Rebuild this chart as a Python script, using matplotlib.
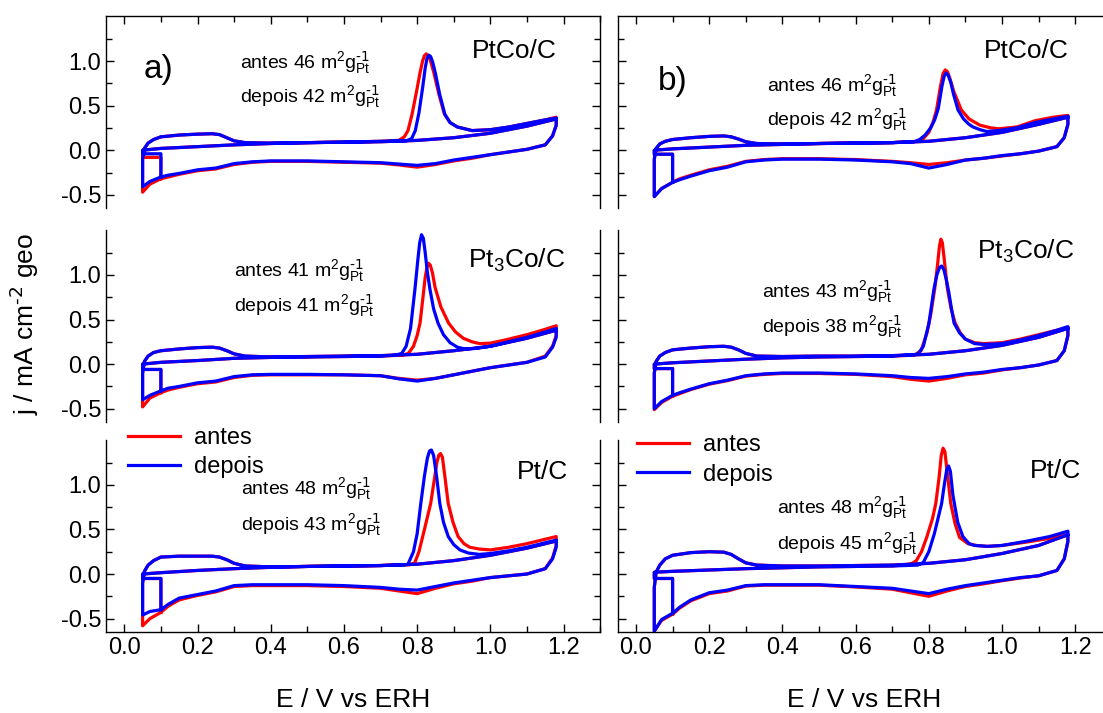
import matplotlib
matplotlib.use('Agg')
import matplotlib.pyplot as plt
from matplotlib.ticker import MultipleLocator, FixedLocator

plt.rcParams['font.family'] = ['Liberation Sans', 'DejaVu Sans']
plt.rcParams['mathtext.default'] = 'regular'
plt.rcParams['axes.unicode_minus'] = False

# ---- potentials (V vs ERH) shared by all sweeps ----
co_E_low = [0.05, 0.10, 0.20, 0.30, 0.40, 0.50, 0.60, 0.70]
cat_E = [1.18, 1.18, 1.17, 1.15, 1.10, 1.05, 1.00, 0.95, 0.90, 0.85, 0.80, 0.75, 0.70,
         0.60, 0.50, 0.40, 0.35, 0.30, 0.25, 0.20, 0.15, 0.12, 0.10, 0.07, 0.05]
h_E = [0.05, 0.055, 0.065, 0.08, 0.10, 0.15, 0.20, 0.24, 0.26, 0.28, 0.30, 0.33, 0.40, 0.50,
       0.60, 0.70, 0.80, 0.90, 1.00, 1.10, 1.18]

# ---- a) PtCo/C ----
ptco_a_co_low = [0.00, 0.02, 0.04, 0.06, 0.075, 0.085, 0.09, 0.10]
ptco_a_peak_E_antes = [0.75, 0.765, 0.775, 0.786, 0.798, 0.808, 0.815, 0.82, 0.825, 0.83, 0.836,
                       0.845, 0.86, 0.874, 0.89, 0.91, 0.95, 1.00, 1.05, 1.10, 1.15, 1.18]
ptco_a_peak_j_antes = [0.11, 0.15, 0.22, 0.40, 0.65, 0.87, 1.00, 1.06, 1.08, 1.06, 1.01,
                       0.88, 0.62, 0.41, 0.31, 0.26, 0.22, 0.23, 0.26, 0.30, 0.34, 0.37]
ptco_a_peak_E_depois = [0.77, 0.785, 0.795, 0.805, 0.815, 0.822, 0.827, 0.832, 0.837, 0.843, 0.85,
                        0.862, 0.876, 0.89, 0.91, 0.95, 1.00, 1.05, 1.10, 1.15, 1.18]
ptco_a_peak_j_depois = [0.105, 0.13, 0.22, 0.42, 0.70, 0.92, 1.03, 1.065, 1.05, 0.98, 0.86,
                        0.62, 0.40, 0.31, 0.26, 0.22, 0.23, 0.26, 0.30, 0.34, 0.36]
ptco_a_cat_antes = [0.37, 0.28, 0.16, 0.06, 0.01, -0.02, -0.05, -0.09, -0.12, -0.16, -0.19, -0.165, -0.145,
                    -0.135, -0.125, -0.125, -0.135, -0.16, -0.21, -0.23, -0.27, -0.30, -0.32, -0.38, -0.47]
ptco_a_cat_depois = [0.36, 0.28, 0.16, 0.06, 0.01, -0.02, -0.05, -0.08, -0.11, -0.15, -0.17, -0.155, -0.14,
                     -0.13, -0.12, -0.12, -0.13, -0.15, -0.20, -0.22, -0.26, -0.28, -0.30, -0.35, -0.41]
ptco_a_h = [-0.10, 0.02, 0.08, 0.12, 0.15, 0.17, 0.18, 0.185, 0.175, 0.14, 0.105, 0.085, 0.08, 0.085,
            0.09, 0.095, 0.11, 0.14, 0.19, 0.27, 0.35]
ptco_a_step = [-0.08, -0.04]

# ---- a) Pt3Co/C ----
pt3co_a_co_low = [0.00, 0.02, 0.04, 0.065, 0.075, 0.08, 0.085, 0.09]
pt3co_a_peak_E_antes = [0.76, 0.776, 0.79, 0.80, 0.808, 0.816, 0.822, 0.827, 0.831, 0.836, 0.842,
                        0.849, 0.865, 0.886, 0.905, 0.926, 0.95, 0.97, 1.00, 1.04, 1.10, 1.15, 1.18]
pt3co_a_peak_j_antes = [0.10, 0.12, 0.20, 0.32, 0.46, 0.75, 0.97, 1.09, 1.13, 1.11, 1.02,
                        0.86, 0.64, 0.46, 0.36, 0.29, 0.25, 0.23, 0.235, 0.27, 0.33, 0.39, 0.43]
pt3co_a_peak_E_depois = [0.74, 0.758, 0.77, 0.782, 0.794, 0.802, 0.807, 0.812, 0.817, 0.822, 0.828,
                         0.835, 0.845, 0.857, 0.872, 0.89, 0.91, 0.93, 0.96, 1.00, 1.05, 1.10, 1.15, 1.18]
pt3co_a_peak_j_depois = [0.10, 0.12, 0.20, 0.40, 0.84, 1.17, 1.36, 1.45, 1.41, 1.25, 1.03,
                         0.84, 0.62, 0.46, 0.33, 0.24, 0.19, 0.17, 0.175, 0.20, 0.25, 0.30, 0.36, 0.40]
pt3co_a_cat_antes = [0.43, 0.32, 0.20, 0.09, 0.02, -0.01, -0.04, -0.08, -0.12, -0.16, -0.18, -0.16, -0.13,
                     -0.12, -0.12, -0.12, -0.125, -0.15, -0.20, -0.22, -0.26, -0.29, -0.32, -0.38, -0.48]
pt3co_a_cat_depois = [0.40, 0.30, 0.19, 0.08, 0.02, -0.01, -0.04, -0.08, -0.12, -0.16, -0.19, -0.165, -0.13,
                      -0.12, -0.115, -0.115, -0.12, -0.14, -0.19, -0.21, -0.25, -0.27, -0.30, -0.35, -0.40]
pt3co_a_h = [-0.10, 0.03, 0.09, 0.13, 0.15, 0.17, 0.185, 0.19, 0.18, 0.15, 0.115, 0.09, 0.08, 0.085,
             0.09, 0.095, 0.11, 0.15, 0.20, 0.29, 0.38]
pt3co_a_step = [-0.06, -0.06]

# ---- a) Pt/C ----
pt_a_co_low = [0.00, 0.015, 0.04, 0.06, 0.075, 0.085, 0.09, 0.095]
pt_a_peak_E_antes = [0.78, 0.793, 0.805, 0.82, 0.837, 0.847, 0.854, 0.859, 0.864, 0.869, 0.875,
                     0.885, 0.898, 0.912, 0.928, 0.944, 0.97, 1.00, 1.05, 1.10, 1.15, 1.18]
pt_a_peak_j_antes = [0.105, 0.12, 0.25, 0.50, 0.79, 1.06, 1.25, 1.33, 1.35, 1.31, 1.12,
                     0.79, 0.58, 0.42, 0.34, 0.30, 0.28, 0.27, 0.30, 0.34, 0.39, 0.42]
pt_a_peak_E_depois = [0.76, 0.775, 0.79, 0.80, 0.81, 0.82, 0.828, 0.834, 0.839, 0.845, 0.853,
                      0.862, 0.872, 0.885, 0.90, 0.917, 0.94, 0.97, 1.00, 1.05, 1.10, 1.15, 1.18]
pt_a_peak_j_depois = [0.10, 0.11, 0.25, 0.45, 0.79, 1.10, 1.30, 1.38, 1.39, 1.33, 1.10,
                      0.79, 0.58, 0.42, 0.33, 0.27, 0.235, 0.22, 0.23, 0.26, 0.30, 0.35, 0.38]
pt_a_cat_antes = [0.42, 0.32, 0.18, 0.06, 0.00, -0.02, -0.04, -0.08, -0.11, -0.16, -0.22, -0.19, -0.16,
                  -0.14, -0.13, -0.13, -0.13, -0.14, -0.20, -0.24, -0.29, -0.36, -0.43, -0.50, -0.58]
pt_a_cat_depois = [0.38, 0.30, 0.17, 0.06, 0.00, -0.02, -0.04, -0.07, -0.10, -0.14, -0.18, -0.17, -0.15,
                   -0.13, -0.12, -0.12, -0.12, -0.13, -0.19, -0.23, -0.27, -0.34, -0.40, -0.42, -0.46]
pt_a_h = [-0.10, 0.03, 0.10, 0.15, 0.19, 0.20, 0.20, 0.20, 0.19, 0.16, 0.12, 0.09, 0.08, 0.085,
          0.09, 0.095, 0.11, 0.15, 0.21, 0.29, 0.37]
pt_a_step = [-0.05, -0.05]

# ---- b) PtCo/C ----
ptco_b_co_low = [0.00, 0.015, 0.035, 0.055, 0.065, 0.075, 0.08, 0.085]
ptco_b_peak_E_antes = [0.77, 0.785, 0.80, 0.812, 0.821, 0.832, 0.839, 0.845, 0.851, 0.858, 0.868,
                       0.889, 0.91, 0.94, 0.97, 0.99, 1.04, 1.09, 1.14, 1.18]
ptco_b_peak_j_antes = [0.10, 0.13, 0.20, 0.32, 0.45, 0.72, 0.86, 0.90, 0.88, 0.80, 0.66,
                       0.45, 0.35, 0.28, 0.25, 0.24, 0.26, 0.33, 0.37, 0.39]
ptco_b_peak_E_depois = [0.76, 0.775, 0.79, 0.805, 0.816, 0.826, 0.836, 0.842, 0.847, 0.853, 0.86,
                        0.868, 0.88, 0.895, 0.91, 0.921, 0.94, 0.958, 0.99, 1.04, 1.09, 1.14, 1.18]
ptco_b_peak_j_depois = [0.095, 0.12, 0.17, 0.25, 0.34, 0.47, 0.72, 0.83, 0.865, 0.84, 0.76,
                        0.62, 0.45, 0.35, 0.29, 0.26, 0.23, 0.21, 0.22, 0.25, 0.31, 0.35, 0.38]
ptco_b_cat_antes = [0.39, 0.29, 0.14, 0.04, -0.01, -0.04, -0.065, -0.09, -0.11, -0.14, -0.16, -0.14, -0.125,
                    -0.105, -0.095, -0.095, -0.105, -0.125, -0.18, -0.22, -0.28, -0.32, -0.36, -0.43, -0.52]
ptco_b_cat_depois = [0.38, 0.29, 0.14, 0.04, -0.01, -0.04, -0.06, -0.09, -0.11, -0.16, -0.20, -0.15, -0.13,
                     -0.11, -0.10, -0.10, -0.11, -0.13, -0.19, -0.23, -0.29, -0.33, -0.36, -0.43, -0.52]
ptco_b_h = [-0.10, 0.02, 0.07, 0.10, 0.12, 0.14, 0.155, 0.16, 0.15, 0.125, 0.095, 0.075, 0.07, 0.075,
            0.08, 0.085, 0.10, 0.14, 0.20, 0.29, 0.37]
ptco_b_step = [-0.045, -0.045]

# ---- b) Pt3Co/C ----
pt3co_b_co_low = [0.00, 0.015, 0.035, 0.055, 0.07, 0.08, 0.085, 0.09]
pt3co_b_peak_E_antes = [0.76, 0.779, 0.795, 0.805, 0.816, 0.824, 0.829, 0.833, 0.837, 0.842, 0.851,
                        0.861, 0.872, 0.886, 0.90, 0.925, 0.95, 1.00, 1.05, 1.10, 1.15, 1.18]
pt3co_b_peak_j_antes = [0.10, 0.15, 0.35, 0.55, 0.84, 1.12, 1.32, 1.40, 1.36, 1.18, 0.84,
                        0.62, 0.46, 0.35, 0.28, 0.24, 0.23, 0.24, 0.28, 0.33, 0.38, 0.41]
pt3co_b_peak_E_depois = [0.77, 0.785, 0.80, 0.814, 0.822, 0.829, 0.835, 0.841, 0.847, 0.854, 0.862,
                         0.869, 0.884, 0.90, 0.925, 0.95, 1.00, 1.05, 1.10, 1.15, 1.18]
pt3co_b_peak_j_depois = [0.11, 0.20, 0.45, 0.84, 1.00, 1.08, 1.10, 1.06, 0.96, 0.82, 0.62,
                         0.46, 0.35, 0.28, 0.23, 0.22, 0.23, 0.27, 0.32, 0.38, 0.42]
pt3co_b_cat_antes = [0.41, 0.32, 0.15, 0.04, -0.01, -0.04, -0.065, -0.10, -0.12, -0.16, -0.19, -0.17, -0.14,
                     -0.115, -0.105, -0.105, -0.115, -0.135, -0.185, -0.225, -0.285, -0.33, -0.36, -0.43, -0.51]
pt3co_b_cat_depois = [0.42, 0.32, 0.15, 0.04, -0.01, -0.04, -0.06, -0.09, -0.11, -0.14, -0.16, -0.15, -0.13,
                      -0.11, -0.10, -0.10, -0.11, -0.13, -0.18, -0.22, -0.28, -0.32, -0.35, -0.42, -0.50]
pt3co_b_h = [-0.10, 0.03, 0.09, 0.13, 0.16, 0.18, 0.195, 0.20, 0.19, 0.16, 0.12, 0.09, 0.085, 0.09,
             0.09, 0.095, 0.11, 0.15, 0.21, 0.30, 0.40]
pt3co_b_step = [-0.05, -0.05]

# ---- b) Pt/C ----
pt_b_co_low = [0.02, 0.03, 0.045, 0.06, 0.07, 0.08, 0.085, 0.09]
pt_b_peak_E_antes = [0.75, 0.766, 0.78, 0.795, 0.81, 0.819, 0.828, 0.834, 0.839, 0.844, 0.85,
                     0.86, 0.872, 0.884, 0.907, 0.93, 0.96, 1.00, 1.07, 1.13, 1.18]
pt_b_peak_j_antes = [0.11, 0.15, 0.25, 0.42, 0.62, 0.79, 1.08, 1.33, 1.41, 1.37, 1.15,
                     0.79, 0.56, 0.41, 0.34, 0.32, 0.31, 0.32, 0.36, 0.40, 0.44]
pt_b_peak_E_depois = [0.77, 0.785, 0.80, 0.815, 0.835, 0.843, 0.849, 0.854, 0.859, 0.866, 0.879,
                      0.893, 0.91, 0.925, 0.96, 1.00, 1.07, 1.13, 1.18]
pt_b_peak_j_depois = [0.10, 0.13, 0.25, 0.45, 0.79, 1.02, 1.17, 1.21, 1.15, 0.88, 0.58,
                      0.42, 0.34, 0.32, 0.31, 0.32, 0.37, 0.42, 0.48]
pt_b_cat_antes = [0.44, 0.36, 0.17, 0.04, -0.02, -0.045, -0.075, -0.11, -0.14, -0.19, -0.25, -0.21, -0.17,
                  -0.145, -0.125, -0.125, -0.125, -0.135, -0.19, -0.22, -0.30, -0.38, -0.45, -0.52, -0.64]
pt_b_cat_depois = [0.47, 0.37, 0.17, 0.04, -0.02, -0.04, -0.07, -0.10, -0.13, -0.17, -0.22, -0.19, -0.16,
                   -0.14, -0.12, -0.12, -0.12, -0.13, -0.18, -0.21, -0.29, -0.37, -0.44, -0.51, -0.64]
pt_b_h = [-0.15, 0.02, 0.10, 0.17, 0.21, 0.24, 0.25, 0.245, 0.22, 0.17, 0.125, 0.10, 0.09, 0.09,
          0.095, 0.10, 0.12, 0.16, 0.23, 0.32, 0.44]
pt_b_step = [-0.05, -0.05]

# ---- labels ----
catalysts = ['PtCo/C', 'Pt$_3$Co/C', 'Pt/C']
area_a = [(46, 42), (41, 41), (48, 43)]
area_b = [(46, 42), (43, 38), (48, 45)]
unit = r'm$^2$g$_{Pt}^{\text{-1}}$'

panels = [
    # column, row, co_low, peakE antes, peakj antes, peakE depois, peakj depois, cat antes, cat depois, h, step
    (0, 0, ptco_a_co_low, ptco_a_peak_E_antes, ptco_a_peak_j_antes, ptco_a_peak_E_depois,
     ptco_a_peak_j_depois, ptco_a_cat_antes, ptco_a_cat_depois, ptco_a_h, ptco_a_step),
    (0, 1, pt3co_a_co_low, pt3co_a_peak_E_antes, pt3co_a_peak_j_antes, pt3co_a_peak_E_depois,
     pt3co_a_peak_j_depois, pt3co_a_cat_antes, pt3co_a_cat_depois, pt3co_a_h, pt3co_a_step),
    (0, 2, pt_a_co_low, pt_a_peak_E_antes, pt_a_peak_j_antes, pt_a_peak_E_depois,
     pt_a_peak_j_depois, pt_a_cat_antes, pt_a_cat_depois, pt_a_h, pt_a_step),
    (1, 0, ptco_b_co_low, ptco_b_peak_E_antes, ptco_b_peak_j_antes, ptco_b_peak_E_depois,
     ptco_b_peak_j_depois, ptco_b_cat_antes, ptco_b_cat_depois, ptco_b_h, ptco_b_step),
    (1, 1, pt3co_b_co_low, pt3co_b_peak_E_antes, pt3co_b_peak_j_antes, pt3co_b_peak_E_depois,
     pt3co_b_peak_j_depois, pt3co_b_cat_antes, pt3co_b_cat_depois, pt3co_b_h, pt3co_b_step),
    (1, 2, pt_b_co_low, pt_b_peak_E_antes, pt_b_peak_j_antes, pt_b_peak_E_depois,
     pt_b_peak_j_depois, pt_b_cat_antes, pt_b_cat_depois, pt_b_h, pt_b_step),
]

# axes placement (figure fractions)
col_left = [0.0961, 0.560]
col_width = 0.448
row_bottom = [0.708, 0.408, 0.1136]
row_height = 0.269

# text placement in axes fractions
note_xy = {(0, 0): (0.271, 0.729, 0.547), (0, 1): (0.259, 0.755, 0.573), (0, 2): (0.273, 0.714, 0.526),
           (1, 0): (0.302, 0.609, 0.427), (1, 1): (0.292, 0.646, 0.464), (1, 2): (0.3225, 0.615, 0.427)}
name_xy = {(0, 0): (0.913, 0.781), (0, 1): (0.929, 0.807), (0, 2): (0.935, 0.797),
           (1, 0): (0.913, 0.781), (1, 1): (0.923, 0.849), (1, 2): (0.937, 0.802)}

fig = plt.figure(figsize=(11.03, 7.13), dpi=100)
i10 = cat_E.index(0.10)

for col, row, co_low, pEa, pja, pEd, pjd, cat_a, cat_d, hj, step in panels:
    ax = fig.add_axes([col_left[col], row_bottom[row], col_width, row_height])
    series = [('antes', 'red', pEa, pja, cat_a, step[0]),
              ('depois', 'blue', pEd, pjd, cat_d, step[1])]
    for lab, c, pE, pj, cat, st in series:
        E = [0.10, 0.10, 0.05] + co_E_low + pE + cat_E + h_E
        j = [cat[i10], st, st] + co_low + pj + cat + hj
        ax.plot(E, j, color=c, lw=2.3, label=lab, solid_joinstyle='round')

    ax.set_xlim(-0.05, 1.3)
    ax.set_ylim(-0.65, 1.5)
    ax.xaxis.set_major_locator(MultipleLocator(0.2))
    ax.xaxis.set_minor_locator(MultipleLocator(0.1))
    ax.yaxis.set_major_locator(FixedLocator([-0.5, 0.0, 0.5, 1.0]))
    ax.yaxis.set_minor_locator(FixedLocator([-0.25, 0.25, 0.75, 1.25]))
    # stacked panels: only the outer horizontal frame lines are drawn
    ax.tick_params(which='both', direction='in', top=(row == 0), bottom=(row == 2), right=True,
                   labelsize=17, width=1.0)
    ax.tick_params(which='major', length=6)
    ax.tick_params(which='minor', length=4)
    ax.tick_params(labelbottom=(row == 2), labelleft=(col == 0))
    for sp in ax.spines.values():
        sp.set_linewidth(1.0)
    ax.spines['top'].set_visible(row == 0)
    ax.spines['bottom'].set_visible(row == 2)

    areas = area_a[row] if col == 0 else area_b[row]
    nx, ny1, ny2 = note_xy[(col, row)]
    ax.text(nx, ny1, 'antes %d ' % areas[0] + unit, transform=ax.transAxes,
            fontsize=14, va='baseline')
    ax.text(nx, ny2, 'depois %d ' % areas[1] + unit, transform=ax.transAxes,
            fontsize=14, va='baseline')
    tx, ty = name_xy[(col, row)]
    ax.text(tx, ty, catalysts[row], transform=ax.transAxes, fontsize=19,
            ha='right', va='baseline')

    if row == 0:
        if col == 0:
            ax.text(0.077, 0.677, 'a)', transform=ax.transAxes, fontsize=24, va='baseline')
        else:
            ax.text(0.081, 0.615, 'b)', transform=ax.transAxes, fontsize=24, va='baseline')
    if row == 2:
        lx, ly = (0.045, 1.07) if col == 0 else (0.039, 1.03)
        ax.legend(loc='upper left', bbox_to_anchor=(lx, ly), frameon=False, fontsize=17,
                  handlelength=2.2, handletextpad=0.6, labelspacing=0.3, borderpad=0,
                  borderaxespad=0)

fig.text(0.022, 0.545, r'j / mA cm$^{\text{-2}}$ geo', rotation=90, fontsize=19, ha='center', va='center')
fig.text(0.32, 0.008, 'E / V vs ERH', fontsize=19, ha='center', va='baseline')
fig.text(0.783, 0.008, 'E / V vs ERH', fontsize=19, ha='center', va='baseline')

fig.savefig('out.png', dpi=100)
